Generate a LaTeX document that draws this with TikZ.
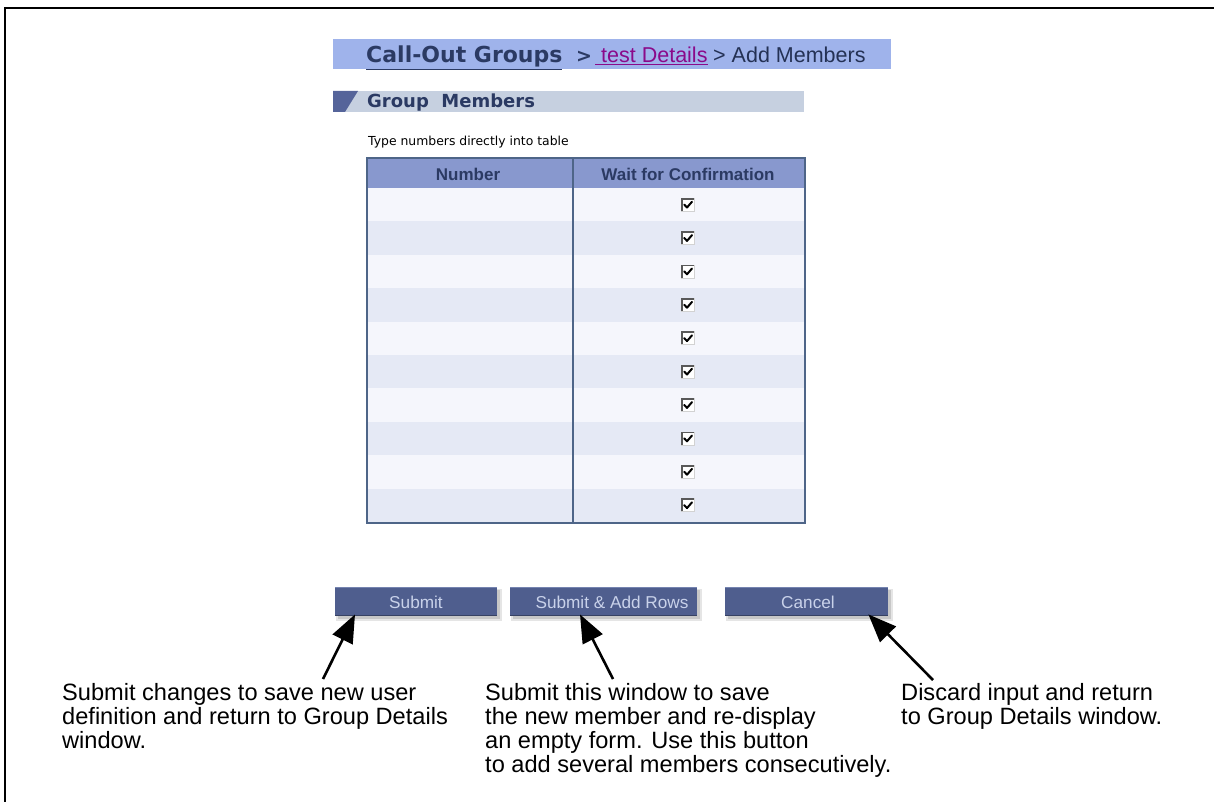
\documentclass[tikz,border=0pt]{standalone}
\usepackage{fontspec}
\setmainfont{Liberation Sans}
\newfontfamily\uifont{DejaVu Sans}
\usetikzlibrary{arrows.meta,calc}

\definecolor{crumbbar}{HTML}{9FB3EB}
\definecolor{navy}{HTML}{2B3A63}
\definecolor{linkpurple}{HTML}{8A0A8A}
\definecolor{secbar}{HTML}{C6D0E0}
\definecolor{secmark}{HTML}{55649A}
\definecolor{tblborder}{HTML}{4E6588}
\definecolor{tblhead}{HTML}{8898CE}
\definecolor{rowA}{HTML}{F5F6FC}
\definecolor{rowB}{HTML}{E5E9F5}
\definecolor{btnfill}{HTML}{4F5E8E}
\definecolor{btntop}{HTML}{7584B0}
\definecolor{btntext}{HTML}{C9D2EA}

\tikzset{
  btn/.style={draw=none, fill=btnfill, minimum width=#1, minimum height=29pt,
    inner sep=0pt, text=btntext, anchor=north west},
  btnlabel/.style={anchor=base, inner sep=0pt, text=btntext,
    font=\fontsize{17.2}{18}\selectfont},
  note/.style={anchor=north west, inner sep=0pt, align=left,
    font=\fontsize{23.6}{24}\selectfont},
  callout/.style={line width=2.6pt, -{Triangle[length=28pt,width=22pt]}},
  cellhead/.style={anchor=base, inner sep=0pt, text=navy,
    font=\bfseries\fontsize{17}{18}\selectfont},
}

\begin{document}
\begin{tikzpicture}[x=1pt,y=-1pt]
\useasboundingbox (0,0) rectangle (1214,802);
\fill[white] (0,0) rectangle (1214,802);

% page frame (open to the right and bottom)
\draw[line width=2.6pt] (5,803) -- (5,8) -- (1215,8);

% breadcrumb bar
\fill[crumbbar] (333,39) rectangle (891,69);
\node[anchor=base west, inner sep=0pt, text=navy,
  font=\uifont\bfseries\fontsize{22}{22}\selectfont] (crumb1) at (366,63) {\underline{Call-Out Groups}};
\node[anchor=base west, inner sep=0pt, text=navy,
  font=\uifont\bfseries\fontsize{19}{22}\selectfont] (crumbsep) at (576,63) {>};
\node[anchor=base west, inner sep=0pt, text=linkpurple,
  font=\fontsize{21.5}{22}\selectfont] (crumb2) at (595,63) {\underline{\ test Details}};
\node[anchor=base west, inner sep=0pt, text=navy!85!black,
  font=\fontsize{21.5}{22}\selectfont] (crumb3) at (713,63) {> Add Members};

% section bar
\fill[secbar] (333,91) rectangle (804,112);
\fill[secmark] (333,91) -- (358,91) -- (345,112) -- (333,112) -- cycle;
\node[anchor=base west, inner sep=0pt, text=navy,
  font=\uifont\bfseries\fontsize{18}{18}\selectfont] (sect) at (367,108) {Group\ \ Members};

% hint line
\node[anchor=base west, inner sep=0pt,
  font=\uifont\fontsize{12.4}{13}\selectfont] (hint) at (368,146) {Type numbers directly into table};

% table body
\fill[tblhead] (367,158) rectangle (805,188);
\foreach \i in {1,...,10}{
  \pgfmathsetmacro{\ytop}{188+(\i-1)*33.4}
  \pgfmathsetmacro{\ybot}{188+\i*33.4}
  \pgfmathsetmacro{\yc}{188+(\i-0.5)*33.4}
  \ifodd\i
    \fill[rowA] (367,\ytop) rectangle (805,\ybot);
  \else
    \fill[rowB] (367,\ytop) rectangle (805,\ybot);
  \fi
  % checkbox
  \node[minimum size=13pt, inner sep=0pt, fill=white, draw=gray!35, line width=0.8pt] (cb\i) at (688,\yc) {};
  \draw[gray!70!black, line width=1.7pt] ([xshift=0.9pt,yshift=0.9pt]cb\i.south west) -- ([xshift=0.9pt,yshift=-0.9pt]cb\i.north west) -- ([xshift=-0.9pt,yshift=-0.9pt]cb\i.north east);
  \draw[black, line width=2pt, line cap=round, line join=round]
    ($(cb\i.center)+(-3.8,-0.2)$) -- ($(cb\i.center)+(-1,2.8)$) -- ($(cb\i.center)+(4,-3)$);
}
\draw[tblborder, line width=2pt] (367,158) rectangle (805,523);
\draw[tblborder, line width=2pt] (573,158) -- (573,523);
\node[cellhead] (hnum) at (468,181) {Number};
\node[cellhead] (hwait) at (688,181) {Wait for Confirmation};

% buttons with drop shadow
\foreach \x/\w in {335/162, 510/187, 725/163}{
  \fill[black!10] (\x+1,589) rectangle (\x+\w+5,621);
  \fill[black!22] (\x+3,590) rectangle (\x+\w+3,619);
}
\node[btn=162pt] (bsub) at (335,587) {};
\node[btn=187pt] (badd) at (510,587) {};
\node[btn=163pt] (bcan) at (725,587) {};
\foreach \b in {bsub,badd,bcan}{
  \draw[btntop, line width=1pt] ([yshift=-0.5pt]\b.north west) -- ([yshift=-0.5pt]\b.north east);
  \draw[btnfill!70!black, line width=1pt] ([yshift=0.5pt]\b.south west) -- ([yshift=0.5pt]\b.south east);
}
\node[btnlabel] (lsub) at (416,608) {Submit};
\node[btnlabel] (ladd) at (612,608) {Submit \& Add Rows};
\node[btnlabel] (lcan) at (808,608) {Cancel};

% explanations
\node[note] (nsub) at (62,683) {Submit changes to save new user\\definition and return to Group Details\\window.};
\node[note] (nadd) at (485,683) {Submit this window to save\\the new member and re-display\\an empty form. Use this button\\to add several members consecutively.};
\node[note] (ncan) at (901,683) {Discard input and return\\to Group Details window.};

% callout arrows
\coordinate (tsub) at (323,679);
\coordinate (tadd) at (613,679);
\coordinate (tcan) at (933,680);
\draw[callout] (tsub) -- ([xshift=20pt,yshift=2pt]bsub.south west);
\draw[callout] (tadd) -- ([xshift=70pt,yshift=2pt]badd.south west);
\draw[callout] (tcan) -- ([xshift=-20pt,yshift=2pt]bcan.south east);
\end{tikzpicture}
\end{document}
